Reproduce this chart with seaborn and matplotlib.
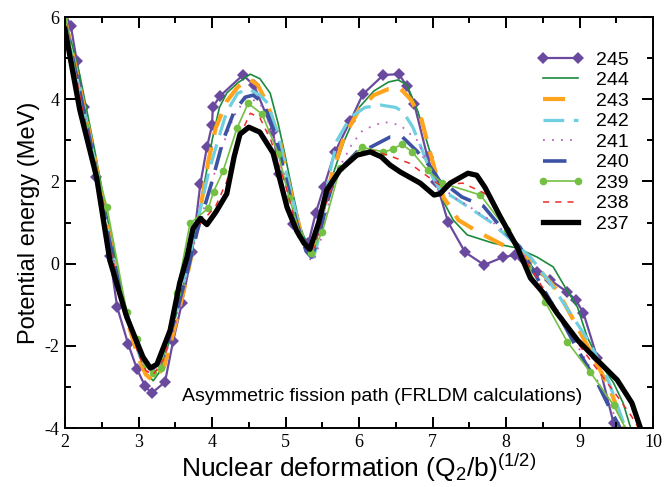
import matplotlib
matplotlib.use("Agg")
import matplotlib.pyplot as plt
import seaborn as sns
from matplotlib.ticker import MultipleLocator

# ---- data ----
x245 = [2.0, 2.08, 2.16, 2.26, 2.42, 2.61, 2.71, 2.86, 2.98, 3.09, 3.18, 3.36, 3.47, 3.59, 3.73, 3.84,
        3.93, 4.00, 4.01, 4.11, 4.42, 4.57, 4.83, 4.91, 5.10, 5.31, 5.41, 5.52, 5.67, 5.88, 6.05, 6.33,
        6.54, 6.65, 6.75, 6.93, 7.05, 7.21, 7.44, 7.70, 7.96, 8.12, 8.23, 8.42, 8.60, 8.83, 8.95, 9.05,
        9.24, 9.46, 9.55]
y245 = [6.1, 5.78, 4.93, 3.81, 2.11, 0.18, -1.06, -1.96, -2.57, -2.98, -3.15, -2.88, -1.89, -0.96, 0.28, 1.93,
        2.83, 3.37, 3.81, 4.08, 4.59, 4.34, 3.22, 2.18, 0.96, 0.50, 1.23, 1.86, 2.71, 3.47, 4.12, 4.59,
        4.61, 4.32, 3.88, 2.59, 1.98, 1.01, 0.28, -0.03, 0.16, 0.21, 0.11, -0.20, -0.40, -0.69, -0.89, -1.20,
        -2.30, -3.88, -4.3]

x244 = [2.0, 2.2, 2.4, 2.6, 2.8, 3.0, 3.1, 3.2, 3.3, 3.45, 3.6, 3.75, 3.9, 4.0, 4.1, 4.2, 4.35, 4.52,
        4.65, 4.79, 4.9, 4.97, 5.1, 5.2, 5.3, 5.38, 5.5, 5.65, 5.8, 6.0, 6.2, 6.4, 6.53, 6.65, 6.8, 6.95,
        7.05, 7.15, 7.28, 7.47, 7.82, 8.15, 8.42, 8.64, 8.8, 8.97, 9.1, 9.28, 9.46, 9.59, 9.69, 9.75]
y244 = [6.0, 4.6, 2.8, 0.9, -0.9, -2.2, -2.65, -2.85, -2.6, -1.7, -0.6, 0.5, 2.0, 3.0, 3.8, 4.15, 4.4, 4.61,
        4.5, 4.15, 3.4, 2.83, 1.7, 0.9, 0.4, 0.35, 1.1, 2.2, 3.0, 3.8, 4.2, 4.42, 4.47, 4.35, 3.7, 2.8,
        2.2, 1.5, 1.06, 0.70, 0.50, 0.38, 0.16, -0.08, -0.57, -1.06, -1.78, -2.42, -2.9, -3.39, -3.98, -4.3]

x243 = [2.0, 2.2, 2.4, 2.6, 2.8, 3.0, 3.1, 3.2, 3.35, 3.5, 3.65, 3.8, 3.95, 4.05, 4.2, 4.35, 4.5, 4.62,
        4.75, 4.92, 5.05, 5.2, 5.3, 5.4, 5.5, 5.65, 5.8, 6.0, 6.2, 6.4, 6.55, 6.7, 6.85, 6.95, 7.06, 7.15,
        7.24, 7.35, 7.65, 7.96, 8.19, 8.37, 8.69, 8.97, 9.19, 9.42, 9.59, 9.65]
y243 = [5.95, 4.3, 2.6, 0.7, -1.1, -2.3, -2.7, -2.85, -2.5, -1.5, -0.4, 0.9, 2.5, 3.3, 3.95, 4.3, 4.5, 4.35,
        3.9, 3.0, 1.9, 0.8, 0.3, 0.5, 1.3, 2.3, 3.1, 3.75, 4.1, 4.25, 4.28, 4.0, 3.5, 2.8, 2.1, 1.6,
        1.38, 1.06, 0.74, 0.45, 0.33, 0.01, -0.64, -1.55, -2.28, -3.09, -3.9, -4.2]

x242 = [2.0, 2.2, 2.4, 2.6, 2.8, 3.0, 3.1, 3.2, 3.35, 3.5, 3.65, 3.8, 3.95, 4.08, 4.2, 4.35, 4.5, 4.65,
        4.76, 4.9, 5.05, 5.2, 5.3, 5.38, 5.48, 5.6, 5.7, 5.88, 6.08, 6.29, 6.5, 6.6, 6.73, 6.85, 7.0, 7.1,
        7.28, 7.55, 7.8, 8.05, 8.33, 8.6, 8.87, 9.14, 9.37, 9.55, 9.62]
y242 = [5.9, 4.2, 2.5, 0.6, -1.0, -2.15, -2.5, -2.55, -2.2, -1.3, -0.2, 1.0, 2.2, 3.0, 3.7, 4.15, 4.25, 4.1,
        3.9, 3.1, 1.9, 0.8, 0.2, 0.15, 0.8, 2.2, 3.0, 3.56, 3.8, 3.86, 3.8, 3.69, 3.32, 2.8, 2.1, 1.8,
        1.62, 1.3, 1.0, 0.6, 0.16, -0.47, -1.2, -1.93, -2.76, -3.64, -4.0]

x241 = [2.0, 2.2, 2.4, 2.6, 2.8, 3.0, 3.1, 3.2, 3.35, 3.5, 3.65, 3.8, 4.0, 4.15, 4.3, 4.45, 4.55, 4.7,
        4.85, 5.0, 5.15, 5.3, 5.38, 5.5, 5.6, 5.75, 5.9, 6.05, 6.33, 6.56, 6.79, 6.95, 7.1, 7.3, 7.47,
        7.78, 8.0, 8.2, 8.5, 8.8, 9.0, 9.2, 9.4, 9.55]
y241 = [5.9, 4.2, 2.5, 0.6, -1.0, -2.2, -2.6, -2.7, -2.3, -1.5, -0.3, 0.8, 2.0, 2.9, 3.6, 4.0, 4.0, 3.8,
        3.0, 2.0, 1.0, 0.15, 0.05, 0.7, 1.6, 2.4, 2.9, 3.25, 3.45, 3.37, 3.0, 2.4, 1.9, 1.6, 1.42,
        1.06, 0.75, 0.35, -0.6, -1.4, -2.1, -2.7, -3.4, -4.0]

x240 = [2.0, 2.2, 2.4, 2.6, 2.8, 3.0, 3.1, 3.2, 3.35, 3.5, 3.65, 3.8, 4.0, 4.15, 4.3, 4.45, 4.56, 4.7,
        4.85, 5.0, 5.15, 5.28, 5.35, 5.45, 5.55, 5.65, 5.8, 5.97, 6.12, 6.42, 6.59, 6.79, 6.97, 7.1, 7.24,
        7.4, 7.69, 7.96, 8.19, 8.46, 8.73, 9.0, 9.24, 9.42, 9.55]
y240 = [5.9, 4.2, 2.5, 0.6, -1.0, -2.1, -2.5, -2.55, -2.2, -1.3, -0.3, 0.8, 2.0, 3.0, 3.7, 4.05, 4.1, 3.9,
        3.2, 2.1, 1.0, 0.3, 0.16, 0.6, 1.4, 2.0, 2.4, 2.72, 2.8, 3.08, 3.08, 2.73, 2.35, 2.0, 1.84,
        1.62, 1.4, 0.82, 0.40, -0.47, -1.3, -2.18, -2.9, -3.56, -4.0]

x239 = [2.0, 2.27, 2.57, 2.84, 2.98, 3.1, 3.2, 3.3, 3.52, 3.70, 3.95, 4.02, 4.15, 4.34, 4.49, 4.68, 4.90,
        5.05, 5.2, 5.35, 5.5, 5.74, 6.04, 6.33, 6.46, 6.58, 6.72, 6.93, 7.13, 7.65, 8.01, 8.29, 8.53,
        8.83, 9.14, 9.46, 9.65]
y239 = [6.02, 3.37, 1.38, -1.18, -1.84, -2.45, -2.65, -2.55, -0.72, 0.98, 1.35, 1.75, 2.25, 3.3, 3.9, 3.64, 2.68,
        1.6, 0.7, 0.25, 0.77, 2.32, 2.83, 2.72, 2.78, 2.91, 2.72, 2.27, 1.96, 1.67, 0.82, -0.08, -0.93,
        -1.9, -2.63, -3.44, -4.1]

x238 = [2.0, 2.2, 2.4, 2.6, 2.8, 3.0, 3.1, 3.2, 3.35, 3.5, 3.7, 3.9, 4.05, 4.2, 4.35, 4.52, 4.65, 4.8,
        5.0, 5.15, 5.3, 5.4, 5.5, 5.7, 5.9, 6.05, 6.2, 6.45, 6.69, 6.87, 7.1, 7.41, 7.71, 7.96, 8.15,
        8.4, 8.7, 9.0, 9.25, 9.5, 9.7, 9.8]
y238 = [5.85, 4.1, 2.4, 0.5, -1.1, -2.2, -2.6, -2.7, -2.3, -1.2, 0.7, 1.1, 1.4, 2.0, 3.0, 3.66, 3.55, 3.0,
        1.9, 0.9, 0.3, 0.4, 1.2, 2.2, 2.6, 2.71, 2.75, 2.6, 2.44, 2.2, 1.91, 1.96, 1.71, 1.06, 0.40,
        -0.3, -1.2, -2.0, -2.6, -3.2, -3.7, -4.0]

x237 = [2.0, 2.2, 2.43, 2.61, 2.84, 3.06, 3.16, 3.25, 3.43, 3.56, 3.66, 3.74, 3.84, 3.93, 4.05, 4.2, 4.3,
        4.38, 4.5, 4.65, 4.83, 5.02, 5.15, 5.25, 5.33, 5.45, 5.56, 5.74, 5.97, 6.15, 6.3, 6.42, 6.56, 6.83,
        7.02, 7.1, 7.24, 7.48, 7.6, 7.71, 7.92, 8.15, 8.33, 8.5, 8.69, 8.97, 9.24, 9.51, 9.71, 9.82, 9.9]
y237 = [5.7, 3.75, 2.1, 0.08, -1.3, -2.27, -2.54, -2.45, -1.62, -0.47, 0.16, 0.85, 1.1, 0.95, 1.25, 1.7, 2.6,
        3.15, 3.32, 3.2, 2.69, 1.37, 0.8, 0.5, 0.35, 1.0, 1.79, 2.28, 2.64, 2.72, 2.6, 2.4, 2.23, 1.96,
        1.67, 1.7, 1.96, 2.2, 2.15, 1.86, 1.14, 0.40, -0.35, -0.7, -1.2, -1.86, -2.35, -2.83, -3.39, -3.97, -4.4]

labels = ["245", "244", "243", "242", "241", "240", "239", "238", "237"]
xlabel = r"Nuclear deformation (Q$_2$/b)$^{(1/2)}$"
ylabel = "Potential energy (MeV)"
note = "Asymmetric fission path (FRLDM calculations)"

# ---- style (plain matplotlib defaults, fonts set explicitly) ----
rc = plt.rcParams
rc["axes.unicode_minus"] = False
rc["axes.axisbelow"] = False
rc["font.family"] = ["Liberation Sans", "DejaVu Sans"]
rc["mathtext.fontset"] = "custom"
rc["mathtext.rm"] = "Liberation Sans"
rc["mathtext.it"] = "Liberation Sans:italic"

fig, ax = plt.subplots(figsize=(6.70, 4.87), dpi=100)
fig.subplots_adjust(left=0.097, right=0.975, top=0.965, bottom=0.121)

series = [
    (x245, y245, dict(color="#6a4a9e", lw=1.6, marker="D", markersize=6.5, markeredgewidth=0)),
    (x244, y244, dict(color="#1b8a3c", lw=1.2)),
    (x243, y243, dict(color="#ffa41c", lw=3.0, linestyle=(0, (5.3, 3.1)))),
    (x242, y242, dict(color="#6fcfe0", lw=2.3, linestyle=(0, (6.5, 3.0)))),
    (x241, y241, dict(color="#c060c0", lw=1.3, linestyle=(0, (1, 4)))),
    (x240, y240, dict(color="#3d52a3", lw=2.6, linestyle=(0, (6.5, 3.4)))),
    (x239, y239, dict(color="#74c043", lw=1.2, marker="o", markersize=5.5, markeredgewidth=0)),
    (x238, y238, dict(color="#ee2a2a", lw=1.1, linestyle=(0, (4, 4)))),
    (x237, y237, dict(color="black", lw=3.8)),
]

for (xs, ys, kw), lab in zip(series, labels):
    sns.lineplot(x=xs, y=ys, ax=ax, label=lab, sort=False, estimator=None, **kw)

ax.set_xlim(2, 10)
ax.set_ylim(-4, 6)
ax.xaxis.set_major_locator(MultipleLocator(1))
ax.xaxis.set_minor_locator(MultipleLocator(0.5))
ax.yaxis.set_major_locator(MultipleLocator(2))
ax.yaxis.set_minor_locator(MultipleLocator(1))
ax.tick_params(which="major", direction="in", bottom=True, left=True, top=True, right=True,
               color="black", length=8, width=1.4, labelsize=13, pad=4)
ax.tick_params(which="minor", direction="in", bottom=True, left=True, top=True, right=True,
               color="black", length=4.5, width=1.4)
ax.set_axisbelow(False)

# explicit inward tick marks on all four sides, placed at the axis locator positions
xt_major = [v for v in ax.xaxis.get_majorticklocs() if 2 <= v <= 10]
xt_minor = [v for v in ax.xaxis.get_minorticklocs() if 2 <= v <= 10]
yt_major = [v for v in ax.yaxis.get_majorticklocs() if -4 <= v <= 6]
yt_minor = [v for v in ax.yaxis.get_minorticklocs() if -4 <= v <= 6]
xtr = ax.get_xaxis_transform()
ytr = ax.get_yaxis_transform()
tick_kw = dict(color="black", lw=1.4, clip_on=False, zorder=6, solid_capstyle="butt")
for locs, ln in ((xt_major, 0.026), (xt_minor, 0.013)):
    for v in locs:
        ax.plot([v, v], [0, ln], transform=xtr, **tick_kw)
        ax.plot([v, v], [1, 1 - ln], transform=xtr, **tick_kw)
for locs, ln in ((yt_major, 0.018), (yt_minor, 0.009)):
    for v in locs:
        ax.plot([0, ln], [v, v], transform=ytr, **tick_kw)
        ax.plot([1, 1 - ln], [v, v], transform=ytr, **tick_kw)

for lab in ax.get_xticklabels() + ax.get_yticklabels():
    lab.set_family("Liberation Serif")
for sp in ax.spines.values():
    sp.set_color("black")
    sp.set_linewidth(1.4)

ax.set_xlabel(xlabel, fontsize=19, labelpad=1)
ax.set_ylabel(ylabel, fontsize=17, labelpad=3)
ax.text(6.31, -3.22, note, fontsize=14, ha="center", va="center")

leg = ax.legend(loc="upper right", bbox_to_anchor=(0.971, 0.936), frameon=False, fontsize=14,
                handlelength=2.4, handletextpad=0.6, labelspacing=0.15, numpoints=2, borderaxespad=0)

fig.savefig("out.png", dpi=100)
